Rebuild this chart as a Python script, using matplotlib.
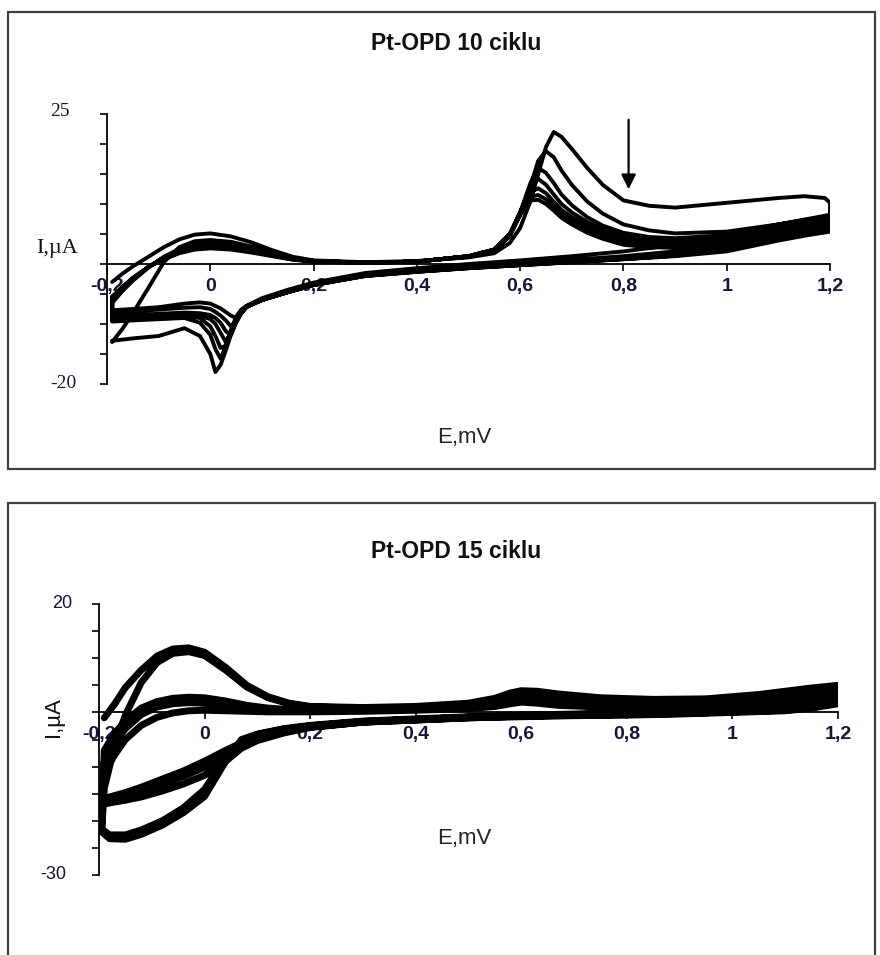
import matplotlib
matplotlib.use("Agg")
import matplotlib.pyplot as plt
from matplotlib.patches import Rectangle

SANS = "Liberation Sans"
SERIF = "Liberation Serif"
TICKCOL = "#15153a"

# ---------------- Pt-OPD 10 ciklu ----------------
E_fwd_10 = [-0.19, -0.17, -0.15, -0.12, -0.09, -0.06, -0.03, 0.0, 0.04, 0.08, 0.12, 0.16,
            0.2, 0.3, 0.4, 0.5, 0.55, 0.58, 0.6, 0.62, 0.635, 0.65, 0.665, 0.68, 0.7,
            0.73, 0.76, 0.8, 0.85, 0.9, 1.0, 1.1, 1.15, 1.19, 1.2]
I_fwd_10 = [
    [-3.0, -1.6, -0.4, 1.2, 2.8, 4.1, 4.9, 5.1, 4.6, 3.6, 2.3, 1.2, 0.6, 0.3, 0.5, 1.1, 1.8, 3.5,
     6.0, 10.5, 15.0, 19.5, 22.0, 21.2, 19.2, 16.0, 13.2, 10.6, 9.7, 9.4, 10.2, 11.0, 11.3, 11.0, 10.2],
    [-13.0, -10.8, -8.2, -4.0, 0.3, 2.8, 3.8, 4.0, 3.7, 2.9, 1.9, 1.0, 0.5, 0.2, 0.4, 1.2, 2.2, 4.6,
     8.2, 13.0, 17.2, 18.8, 17.8, 15.6, 13.2, 10.4, 8.4, 6.6, 5.6, 5.1, 5.4, 6.6, 7.3, 7.8, 7.6],
    [-6.5, -4.5, -2.8, -0.6, 1.2, 2.5, 3.3, 3.6, 3.3, 2.6, 1.7, 0.9, 0.5, 0.2, 0.4, 1.3, 2.3, 4.8,
     8.6, 13.5, 16.0, 15.2, 13.5, 11.6, 9.8, 7.8, 6.4, 5.2, 4.5, 4.3, 4.8, 6.0, 6.8, 7.3, 7.1],
    [-6.0, -4.2, -2.6, -0.5, 1.1, 2.3, 3.0, 3.3, 3.0, 2.4, 1.6, 0.9, 0.5, 0.2, 0.4, 1.3, 2.4, 4.9,
     8.6, 12.8, 14.2, 13.2, 11.6, 10.0, 8.6, 7.0, 5.8, 4.6, 4.0, 3.9, 4.4, 5.6, 6.4, 6.9, 6.7],
    [-5.8, -4.0, -2.5, -0.5, 1.0, 2.1, 2.8, 3.0, 2.8, 2.2, 1.5, 0.8, 0.5, 0.2, 0.4, 1.3, 2.4, 5.0,
     8.6, 12.0, 12.6, 11.8, 10.4, 9.0, 7.8, 6.3, 5.2, 4.1, 3.5, 3.4, 3.9, 5.1, 5.9, 6.4, 6.3],
    [-5.6, -3.9, -2.4, -0.5, 0.9, 1.9, 2.6, 2.8, 2.6, 2.1, 1.4, 0.8, 0.4, 0.2, 0.4, 1.3, 2.4, 5.0,
     8.4, 11.2, 11.5, 10.8, 9.6, 8.3, 7.1, 5.7, 4.6, 3.6, 3.1, 3.0, 3.5, 4.7, 5.5, 6.0, 5.9],
    [-5.4, -3.8, -2.3, -0.5, 0.8, 1.8, 2.4, 2.6, 2.4, 1.9, 1.3, 0.7, 0.4, 0.2, 0.4, 1.3, 2.4, 5.0,
     8.2, 10.6, 10.7, 10.0, 8.9, 7.7, 6.6, 5.2, 4.2, 3.2, 2.8, 2.7, 3.2, 4.3, 5.1, 5.6, 5.5],
]
E_rev_10 = [1.2, 1.15, 1.1, 1.0, 0.9, 0.8, 0.7, 0.6, 0.5, 0.4, 0.3, 0.2, 0.15, 0.1, 0.07, 0.06,
            0.05, 0.04, 0.03, 0.02, 0.01, 0.0, -0.02, -0.05, -0.1, -0.15, -0.19]
I_rev_10 = [
    [8.2, 7.4, 6.6, 4.8, 3.2, 2.1, 1.3, 0.6, 0.0, -0.7, -1.5, -3.1, -4.3, -5.7, -7.0, -8.2,
     -9.8, -11.8, -14.4, -16.8, -18.0, -15.0, -12.0, -10.7, -12.0, -12.4, -12.8],
    [6.8, 6.0, 5.2, 3.4, 2.1, 1.3, 0.7, 0.1, -0.4, -1.0, -1.7, -3.3, -4.5, -5.9, -7.0, -7.8,
     -9.2, -11.2, -13.6, -15.8, -14.2, -11.8, -9.8, -9.0, -9.2, -9.4, -9.6],
    [6.3, 5.6, 4.8, 3.0, 1.8, 1.1, 0.5, 0.0, -0.5, -1.1, -1.8, -3.4, -4.6, -6.0, -7.0, -7.6,
     -8.8, -11.0, -13.6, -14.0, -12.0, -10.4, -9.0, -8.6, -8.8, -9.0, -9.2],
    [6.0, 5.3, 4.5, 2.7, 1.6, 1.0, 0.4, -0.1, -0.6, -1.2, -1.9, -3.5, -4.7, -6.0, -7.1, -7.8,
     -9.4, -11.4, -13.0, -11.5, -10.0, -9.2, -8.6, -8.4, -8.6, -8.8, -9.0],
    [5.8, 5.1, 4.3, 2.5, 1.5, 0.9, 0.4, -0.1, -0.6, -1.2, -1.9, -3.5, -4.7, -6.0, -7.1, -8.0,
     -9.6, -11.8, -11.2, -9.8, -9.0, -8.5, -8.2, -8.1, -8.3, -8.5, -8.7],
    [5.6, 4.9, 4.1, 2.3, 1.4, 0.8, 0.3, -0.2, -0.7, -1.3, -2.0, -3.5, -4.7, -6.0, -7.2, -8.2,
     -9.6, -10.4, -9.4, -8.6, -8.0, -7.5, -7.2, -7.3, -7.6, -7.9, -8.2],
    [5.4, 4.7, 3.9, 2.1, 1.3, 0.8, 0.3, -0.2, -0.7, -1.3, -2.0, -3.5, -4.7, -6.0, -7.2, -8.2,
     -9.0, -8.6, -8.0, -7.4, -7.0, -6.6, -6.4, -6.6, -7.2, -7.5, -7.7],
]

# ---------------- Pt-OPD 15 ciklu ----------------
E_fwd_15 = [-0.19, -0.17, -0.15, -0.12, -0.09, -0.06, -0.03, 0.0, 0.04, 0.08, 0.12, 0.16, 0.2,
            0.3, 0.4, 0.5, 0.55, 0.58, 0.6, 0.63, 0.67, 0.75, 0.85, 0.95, 1.05, 1.1, 1.15, 1.2]
I_fwd_15 = [
    [-1.0, 1.6, 4.6, 7.8, 10.4, 11.7, 11.9, 11.1, 8.3, 5.0, 2.9, 1.7, 1.1, 0.9, 1.1, 1.7, 2.6,
     3.6, 4.0, 3.9, 3.4, 2.7, 2.4, 2.5, 3.3, 3.9, 4.5, 5.0],
    [-14.0, -6.0, -0.5, 5.5, 9.2, 10.9, 11.2, 10.5, 7.8, 4.7, 2.7, 1.6, 1.0, 0.8, 0.9, 1.4, 2.1,
     3.0, 3.4, 3.3, 2.9, 2.3, 2.0, 2.1, 2.8, 3.4, 3.9, 4.4],
    [-7.0, -3.8, -1.6, 0.8, 2.0, 2.6, 2.8, 2.7, 2.1, 1.3, 0.8, 0.5, 0.4, 0.5, 0.7, 1.1, 1.6,
     2.4, 2.8, 2.7, 2.3, 1.8, 1.5, 1.6, 2.3, 2.8, 3.3, 3.7],
    [-9.0, -5.5, -3.0, -0.4, 1.0, 1.6, 1.8, 1.7, 1.3, 0.8, 0.5, 0.3, 0.3, 0.4, 0.6, 1.0, 1.4,
     2.1, 2.4, 2.2, 1.8, 1.4, 1.2, 1.3, 1.9, 2.4, 2.8, 3.2],
    [-11.0, -7.8, -5.0, -2.4, -0.9, -0.1, 0.3, 0.4, 0.3, 0.2, 0.1, 0.1, 0.1, 0.2, 0.4, 0.7,
     1.1, 1.6, 1.9, 1.7, 1.3, 1.0, 0.8, 0.9, 1.4, 1.8, 2.2, 2.6],
]
E_rev_15 = [1.2, 1.15, 1.1, 1.0, 0.9, 0.8, 0.7, 0.6, 0.5, 0.4, 0.3, 0.2, 0.15, 0.1, 0.07, 0.04,
            0.0, -0.04, -0.08, -0.12, -0.15, -0.18, -0.195]
I_rev_15 = [
    [2.4, 1.3, 0.8, 0.4, 0.1, -0.1, -0.3, -0.5, -0.8, -1.2, -1.6, -2.4, -3.0, -4.0, -5.0,
     -9.0, -15.5, -18.5, -20.8, -22.5, -23.4, -23.3, -22.0],
    [2.2, 1.2, 0.7, 0.3, 0.0, -0.2, -0.4, -0.6, -0.9, -1.3, -1.7, -2.5, -3.1, -4.1, -5.4,
     -8.2, -14.2, -17.6, -20.0, -21.7, -22.6, -22.6, -21.5],
    [2.0, 1.0, 0.5, 0.2, -0.1, -0.3, -0.4, -0.6, -0.9, -1.3, -1.7, -2.5, -3.3, -4.5, -5.6,
     -7.0, -9.0, -10.8, -12.3, -13.8, -14.8, -15.6, -16.0],
    [1.8, 0.9, 0.4, 0.1, -0.2, -0.4, -0.5, -0.7, -1.0, -1.4, -1.8, -2.7, -3.5, -4.8, -6.0,
     -7.9, -10.1, -11.8, -13.2, -14.6, -15.4, -16.1, -16.4],
    [1.6, 0.8, 0.3, 0.0, -0.3, -0.5, -0.6, -0.8, -1.0, -1.4, -1.8, -2.8, -3.8, -5.2, -6.6,
     -9.0, -11.6, -13.2, -14.5, -15.6, -16.2, -16.7, -17.0],
]

x_ticks = [-0.2, 0, 0.2, 0.4, 0.6, 0.8, 1, 1.2]
x_labels = ["-0,2", "0", "0,2", "0,4", "0,6", "0,8", "1", "1,2"]

W, H = 880, 955
fig = plt.figure(figsize=(W / 100, H / 100), dpi=100)


def fx(px):
    return px / W


def fy(py):
    return 1 - py / H


# frames around the two charts
fig.patches.append(Rectangle((fx(8), fy(469)), fx(875) - fx(8), fy(12) - fy(469),
                             transform=fig.transFigure, fill=False, ec="#404040", lw=1.6))
fig.patches.append(Rectangle((fx(8), fy(975)), fx(875) - fx(8), fy(503) - fy(975),
                             transform=fig.transFigure, fill=False, ec="#404040", lw=1.6))


def cv_axes(rect, ylim, E_f, I_f, E_r, I_r, lw):
    ax = fig.add_axes(rect)
    E, I = [], []
    for f, r in zip(I_f, I_r):
        E += E_f + E_r
        I += f + r
    ax.plot(E, I, color="black", lw=lw, zorder=3, solid_joinstyle="round",
            solid_capstyle="round")
    ax.set_xlim(-0.2, 1.2)
    ax.set_ylim(*ylim)
    for s in ["top", "right"]:
        ax.spines[s].set_visible(False)
    ax.spines["bottom"].set_position(("data", 0))
    ax.spines["left"].set_linewidth(1.3)
    ax.spines["bottom"].set_linewidth(1.3)
    ax.set_xticks(x_ticks)
    ax.set_xticklabels(x_labels, fontfamily=SANS, fontweight="bold", fontsize=14,
                       color=TICKCOL)
    ax.set_yticks(range(ylim[0], ylim[1] + 1, 5))
    ax.set_yticklabels([])
    ax.tick_params(axis="x", direction="out", length=5, width=1.2, pad=5)
    ax.tick_params(axis="y", direction="out", length=5, width=1.2)
    ax.patch.set_alpha(0)
    return ax


# top chart
ax1 = cv_axes([fx(107), fy(384), fx(830) - fx(107), fy(114) - fy(384)], (-20, 25),
              E_fwd_10, I_fwd_10, E_rev_10, I_rev_10, 2.8)
ax1.annotate("", xy=(0.81, 12.0), xytext=(0.81, 24.5),
             arrowprops=dict(arrowstyle="-|>", color="black", lw=1.6,
                             mutation_scale=22))
fig.text(fx(456), fy(44), "Pt-OPD 10 ciklu", fontfamily=SANS, fontweight="bold",
         fontsize=16.5, ha="center", va="center", color="#111111")
fig.text(fx(464), fy(437), "E,mV", fontfamily=SANS, fontsize=16, ha="center",
         va="center", color="#222222")
fig.text(fx(60), fy(111), "25", fontfamily=SERIF, fontsize=14, ha="center",
         va="center", color=TICKCOL)
fig.text(fx(63), fy(383), "-20", fontfamily=SERIF, fontsize=14, ha="center",
         va="center", color=TICKCOL)
fig.text(fx(57), fy(249), "I,µA", fontfamily=SERIF, fontsize=16, ha="center",
         va="center", color="#111111")

# bottom chart
ax2 = cv_axes([fx(99), fy(875), fx(838) - fx(99), fy(604) - fy(875)], (-30, 20),
              E_fwd_15, I_fwd_15, E_rev_15, I_rev_15, 5.0)
fig.text(fx(456), fy(551), "Pt-OPD 15 ciklu", fontfamily=SANS, fontweight="bold",
         fontsize=16.5, ha="center", va="center", color="#111111")
fig.text(fx(464), fy(838), "E,mV", fontfamily=SANS, fontsize=16, ha="center",
         va="center", color="#222222")
fig.text(fx(62), fy(604), "20", fontfamily=SANS, fontsize=13, ha="center",
         va="center", color=TICKCOL)
fig.text(fx(53), fy(874), "-30", fontfamily=SANS, fontsize=13, ha="center",
         va="center", color=TICKCOL)
fig.text(fx(54), fy(717), "I,µA", fontfamily=SANS, fontsize=16, rotation=90,
         ha="center", va="center", color="#111111")

fig.savefig("out.png", dpi=100)
